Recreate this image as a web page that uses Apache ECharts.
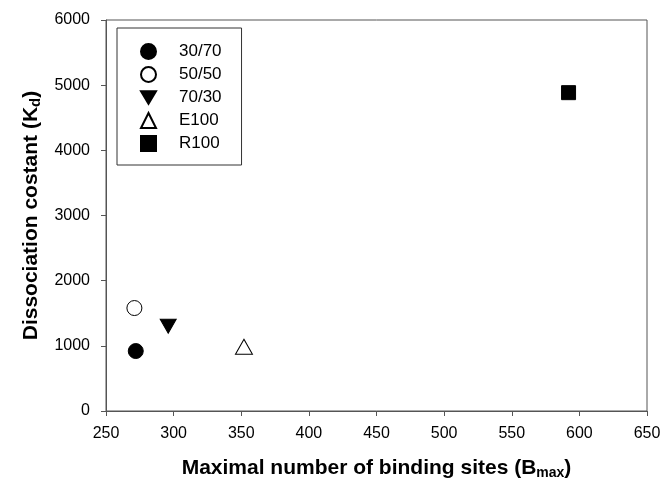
<!DOCTYPE html>
<html>
<head>
<meta charset="utf-8">
<script src="https://cdn.jsdelivr.net/npm/echarts@6/dist/echarts.min.js"></script>
<style>
  html, body { margin: 0; padding: 0; background: #fff; }
  #chart { width: 662px; height: 482px; }
</style>
</head>
<body>
<div id="chart"></div>
<script>
// Formulation groups and their binding parameters (Bmax, Kd)
const groups = ['30/70', '50/50', '70/30', 'E100', 'R100'];
const bmax = [272, 271, 296, 352, 592];
const kd = [920, 1580, 1300, 985, 4885];

const xTicks = { min: 250, max: 650, interval: 50 };
const yTicks = { min: 0, max: 6000, interval: 1000 };

// Marker look per group: filled / open circle, down triangle, open triangle, square
const symbols = ['circle', 'circle', 'path://M0,0 L20,0 L10,17 Z', 'triangle', 'rect'];
const fills = ['#000', '#fff', '#000', '#fff', '#000'];
const sizes = [15, 15, [16, 14], [17, 15], 14];

const font = 'Arial, "Liberation Sans", sans-serif';
const axisColor = '#555';

const series = groups.map((name, i) => ({
  name: name,
  type: 'scatter',
  symbol: symbols[i],
  symbolSize: sizes[i],
  data: [[bmax[i], kd[i]]],
  itemStyle: { color: fills[i], borderColor: '#000', borderWidth: 1, opacity: 1 },
  emphasis: { disabled: true }
}));

const plain = v => String(v);

const chart = echarts.init(document.getElementById('chart'), null, { renderer: 'canvas' });
chart.setOption({
  animation: false,
  backgroundColor: '#fff',
  textStyle: { fontFamily: font },
  grid: {
    left: 106, right: 15, top: 20, bottom: 71,
    containLabel: false,
    outerBoundsMode: 'none',
    show: true, borderColor: axisColor, borderWidth: 1, backgroundColor: 'transparent'
  },
  legend: {
    orient: 'vertical',
    left: 117, top: 28,
    data: groups,
    itemWidth: 15, itemHeight: 15,
    itemGap: 6,
    padding: [15, 20, 13, 23],
    borderColor: '#333', borderWidth: 1,
    textStyle: { fontSize: 17, lineHeight: 17, color: '#000', fontFamily: font, padding: [0, 0, 0, 18] },
    selectedMode: false
  },
  xAxis: {
    type: 'value',
    min: xTicks.min, max: xTicks.max, interval: xTicks.interval,
    name: '{t|Maximal number of binding sites (B}{s|max}{t|)}',
    nameLocation: 'middle',
    nameGap: 46,
    nameTextStyle: {
      rich: {
        t: { fontSize: 21, fontWeight: 'bold', color: '#000', fontFamily: font },
        s: { fontSize: 14, fontWeight: 'bold', color: '#000', fontFamily: font, verticalAlign: 'bottom', padding: [9, 0, 0, 0] }
      }
    },
    axisLine: { show: true, onZero: false, lineStyle: { color: axisColor, width: 1 } },
    axisTick: { show: true, inside: false, length: 5, lineStyle: { color: axisColor } },
    axisLabel: { fontSize: 16, color: '#000', margin: 15, fontFamily: font, formatter: plain },
    splitLine: { show: false }
  },
  yAxis: {
    type: 'value',
    min: yTicks.min, max: yTicks.max, interval: yTicks.interval,
    name: '{t|Dissociation costant (K}{s|d}{t|)}',
    nameLocation: 'middle',
    nameGap: 63,
    nameRotate: 90,
    nameTextStyle: {
      rich: {
        t: { fontSize: 21, fontWeight: 'bold', color: '#000', fontFamily: font },
        s: { fontSize: 15, fontWeight: 'bold', color: '#000', fontFamily: font, verticalAlign: 'bottom', padding: [9, 0, 0, 0] }
      }
    },
    axisLine: { show: true, onZero: false, lineStyle: { color: axisColor, width: 1 } },
    axisTick: { show: true, inside: false, length: 5, lineStyle: { color: axisColor } },
    axisLabel: { fontSize: 16, color: '#000', margin: 16, fontFamily: font, formatter: plain },
    splitLine: { show: false }
  },
  series: series
});
</script>
</body>
</html>
